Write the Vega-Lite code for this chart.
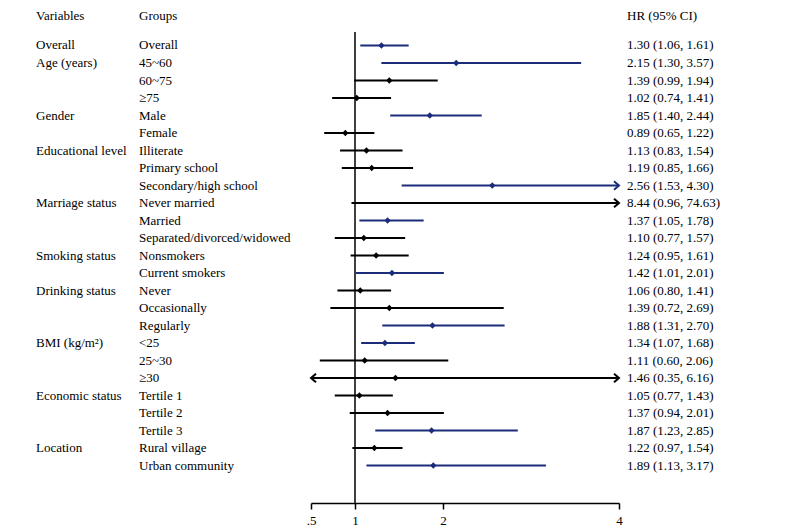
{
  "$schema": "https://vega.github.io/schema/vega-lite/v6.json",
  "padding": {"left": 36, "top": 0, "right": 0, "bottom": 0},
  "background": "white",
  "config": {
    "view": {"stroke": null},
    "font": "Liberation Serif"
  },
  "datasets": {
    "rows": [
      {"var": "Overall", "grp": "Overall", "hr": 1.30, "lo": 1.06, "hi": 1.61, "ci": "1.30 (1.06, 1.61)"},
      {"var": "Age (years)", "grp": "45~60", "hr": 2.15, "lo": 1.30, "hi": 3.57, "ci": "2.15 (1.30, 3.57)"},
      {"var": "", "grp": "60~75", "hr": 1.39, "lo": 0.99, "hi": 1.94, "ci": "1.39 (0.99, 1.94)"},
      {"var": "", "grp": "≥75", "hr": 1.02, "lo": 0.74, "hi": 1.41, "ci": "1.02 (0.74, 1.41)"},
      {"var": "Gender", "grp": "Male", "hr": 1.85, "lo": 1.40, "hi": 2.44, "ci": "1.85 (1.40, 2.44)"},
      {"var": "", "grp": "Female", "hr": 0.89, "lo": 0.65, "hi": 1.22, "ci": "0.89 (0.65, 1.22)"},
      {"var": "Educational level", "grp": "Illiterate", "hr": 1.13, "lo": 0.83, "hi": 1.54, "ci": "1.13 (0.83, 1.54)"},
      {"var": "", "grp": "Primary school", "hr": 1.19, "lo": 0.85, "hi": 1.66, "ci": "1.19 (0.85, 1.66)"},
      {"var": "", "grp": "Secondary/high school", "hr": 2.56, "lo": 1.53, "hi": 4.30, "ci": "2.56 (1.53, 4.30)"},
      {"var": "Marriage status", "grp": "Never married", "hr": 8.44, "lo": 0.96, "hi": 74.63, "ci": "8.44 (0.96, 74.63)"},
      {"var": "", "grp": "Married", "hr": 1.37, "lo": 1.05, "hi": 1.78, "ci": "1.37 (1.05, 1.78)"},
      {"var": "", "grp": "Separated/divorced/widowed", "hr": 1.10, "lo": 0.77, "hi": 1.57, "ci": "1.10 (0.77, 1.57)"},
      {"var": "Smoking status", "grp": "Nonsmokers", "hr": 1.24, "lo": 0.95, "hi": 1.61, "ci": "1.24 (0.95, 1.61)"},
      {"var": "", "grp": "Current smokers", "hr": 1.42, "lo": 1.01, "hi": 2.01, "ci": "1.42 (1.01, 2.01)"},
      {"var": "Drinking status", "grp": "Never", "hr": 1.06, "lo": 0.80, "hi": 1.41, "ci": "1.06 (0.80, 1.41)"},
      {"var": "", "grp": "Occasionally", "hr": 1.39, "lo": 0.72, "hi": 2.69, "ci": "1.39 (0.72, 2.69)"},
      {"var": "", "grp": "Regularly", "hr": 1.88, "lo": 1.31, "hi": 2.70, "ci": "1.88 (1.31, 2.70)"},
      {"var": "BMI (kg/m²)", "grp": "<25", "hr": 1.34, "lo": 1.07, "hi": 1.68, "ci": "1.34 (1.07, 1.68)"},
      {"var": "", "grp": "25~30", "hr": 1.11, "lo": 0.60, "hi": 2.06, "ci": "1.11 (0.60, 2.06)"},
      {"var": "", "grp": "≥30", "hr": 1.46, "lo": 0.35, "hi": 6.16, "ci": "1.46 (0.35, 6.16)"},
      {"var": "Economic status", "grp": "Tertile 1", "hr": 1.05, "lo": 0.77, "hi": 1.43, "ci": "1.05 (0.77, 1.43)"},
      {"var": "", "grp": "Tertile 2", "hr": 1.37, "lo": 0.94, "hi": 2.01, "ci": "1.37 (0.94, 2.01)"},
      {"var": "", "grp": "Tertile 3", "hr": 1.87, "lo": 1.23, "hi": 2.85, "ci": "1.87 (1.23, 2.85)"},
      {"var": "Location", "grp": "Rural village", "hr": 1.22, "lo": 0.97, "hi": 1.54, "ci": "1.22 (0.97, 1.54)"},
      {"var": "", "grp": "Urban community", "hr": 1.89, "lo": 1.13, "hi": 3.17, "ci": "1.89 (1.13, 3.17)"}
    ]
  },
  "columns": 4,
  "spacing": 0,
  "bounds": "flush",
  "align": "each",
  "concat": [
    {
      "width": 103, "height": 32,
      "data": {"values": [{"h": "Variables"}]},
      "mark": {"type": "text", "align": "left", "baseline": "middle", "font": "Liberation Serif", "fontSize": 13, "color": "#000000"},
      "encoding": {
        "x": {"datum": 0, "type": "quantitative", "scale": {"domain": [0, 1]}, "axis": null},
        "text": {"field": "h"}
      }
    },
    {
      "width": 172, "height": 32,
      "data": {"values": [{"h": "Groups"}]},
      "mark": {"type": "text", "align": "left", "baseline": "middle", "font": "Liberation Serif", "fontSize": 13, "color": "#000000"},
      "encoding": {
        "x": {"datum": 0, "type": "quantitative", "scale": {"domain": [0, 1]}, "axis": null},
        "text": {"field": "h"}
      }
    },
    {
      "width": 308, "height": 32,
      "data": {"values": [{"h": ""}]},
      "mark": {"type": "text", "align": "left", "baseline": "middle", "font": "Liberation Serif", "fontSize": 13},
      "encoding": {
        "x": {"datum": 0, "type": "quantitative", "scale": {"domain": [0, 1]}, "axis": null},
        "text": {"field": "h"}
      }
    },
    {
      "width": 181, "height": 32,
      "data": {"values": [{"h": "HR (95% CI)"}]},
      "mark": {"type": "text", "align": "left", "baseline": "middle", "dx": 8, "font": "Liberation Serif", "fontSize": 13, "color": "#000000"},
      "encoding": {
        "x": {"datum": 0, "type": "quantitative", "scale": {"domain": [0, 1]}, "axis": null},
        "text": {"field": "h"}
      }
    },
    {
      "width": 103, "height": 471,
      "data": {"name": "rows"},
      "mark": {"type": "text", "align": "left", "baseline": "middle", "font": "Liberation Serif", "fontSize": 13, "color": "#000000"},
      "encoding": {
        "x": {"datum": 0, "type": "quantitative", "scale": {"domain": [0, 1]}, "axis": null},
        "y": {"field": "grp", "type": "nominal", "sort": null, "scale": {"type": "band", "paddingInner": 0, "paddingOuter": 0.957, "align": 0.1418, "round": false}, "axis": null},
        "text": {"field": "var"}
      }
    },
    {
      "width": 172, "height": 471,
      "data": {"name": "rows"},
      "mark": {"type": "text", "align": "left", "baseline": "middle", "font": "Liberation Serif", "fontSize": 13, "color": "#000000"},
      "encoding": {
        "x": {"datum": 0, "type": "quantitative", "scale": {"domain": [0, 1]}, "axis": null},
        "y": {"field": "grp", "type": "nominal", "sort": null, "scale": {"type": "band", "paddingInner": 0, "paddingOuter": 0.957, "align": 0.1418, "round": false}, "axis": null},
        "text": {"field": "grp"}
      }
    },
    {
      "width": 308, "height": 471,
      "data": {"name": "rows"},
      "encoding": {
        "y": {
          "field": "grp", "type": "nominal",
          "scale": {
            "type": "band", "paddingInner": 0, "paddingOuter": 0.957, "align": 0.1418, "round": false,
            "domain": ["Overall", "45~60", "60~75", "≥75", "Male", "Female", "Illiterate", "Primary school", "Secondary/high school", "Never married", "Married", "Separated/divorced/widowed", "Nonsmokers", "Current smokers", "Never", "Occasionally", "Regularly", "<25", "25~30", "≥30", "Tertile 1", "Tertile 2", "Tertile 3", "Rural village", "Urban community"]
          },
          "axis": null
        },
        "color": {"condition": {"test": "datum.lo > 1", "value": "#1b2d7a"}, "value": "#000000"}
      },
      "layer": [
        {
          "mark": {"type": "rule", "color": "#404040", "strokeWidth": 1.5},
          "encoding": {
            "x": {
              "datum": 1, "type": "quantitative",
              "scale": {"domain": [0.5, 4], "nice": false, "zero": false, "clamp": true},
              "axis": {
                "values": [0.5, 1, 2, 4],
                "labelExpr": "datum.value == 0.5 ? '.5' : datum.value + ''",
                "title": null, "grid": false,
                "domainColor": "#000000", "domainWidth": 1.5,
                "tickColor": "#000000", "tickWidth": 1.5, "tickSize": 6,
                "labelFont": "Liberation Serif", "labelFontSize": 13, "labelColor": "#000000",
                "labelPadding": 5, "labelFlush": false, "labelOverlap": false
              }
            },
            "y": null,
            "color": null
          }
        },
        {
          "mark": {"type": "rule", "strokeWidth": 2},
          "encoding": {
            "x": {"field": "lo", "type": "quantitative"},
            "x2": {"field": "hi"}
          }
        },
        {
          "transform": [{"filter": "datum.hr <= 4"}],
          "mark": {"type": "point", "shape": "diamond", "filled": true, "size": 40, "opacity": 1},
          "encoding": {"x": {"field": "hr", "type": "quantitative"}}
        },
        {
          "transform": [{"filter": "datum.hi > 4"}],
          "mark": {"type": "point", "shape": "M-1,-0.85L0,0L-1,0.85", "filled": false, "size": 100, "strokeWidth": 2, "opacity": 1},
          "encoding": {"x": {"field": "hi", "type": "quantitative"}}
        },
        {
          "transform": [{"filter": "datum.lo < 0.5"}],
          "mark": {"type": "point", "shape": "M1,-0.85L0,0L1,0.85", "filled": false, "size": 100, "strokeWidth": 2, "opacity": 1},
          "encoding": {"x": {"field": "lo", "type": "quantitative"}}
        }
      ]
    },
    {
      "width": 181, "height": 471,
      "data": {"name": "rows"},
      "mark": {"type": "text", "align": "left", "baseline": "middle", "dx": 8, "font": "Liberation Serif", "fontSize": 13, "color": "#000000"},
      "encoding": {
        "x": {"datum": 0, "type": "quantitative", "scale": {"domain": [0, 1]}, "axis": null},
        "y": {"field": "grp", "type": "nominal", "sort": null, "scale": {"type": "band", "paddingInner": 0, "paddingOuter": 0.957, "align": 0.1418, "round": false}, "axis": null},
        "text": {"field": "ci"}
      }
    }
  ]
}
